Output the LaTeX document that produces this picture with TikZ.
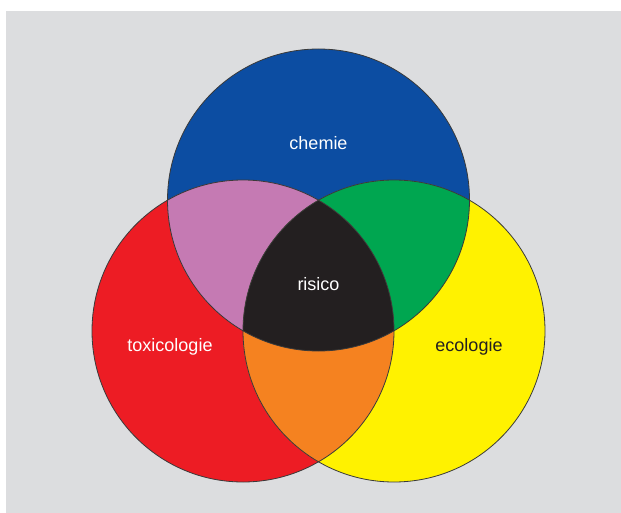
\documentclass[tikz,border=0pt]{standalone}
\usepackage{fontspec}
\setmainfont{Liberation Sans}
\definecolor{bggray}{HTML}{DCDDDF}
\definecolor{cblue}{HTML}{0C4DA2}
\definecolor{cred}{HTML}{ED1C24}
\definecolor{cyellow}{HTML}{FFF200}
\definecolor{cpink}{HTML}{C57AB3}
\definecolor{cgreen}{HTML}{00A650}
\definecolor{corange}{HTML}{F58220}
\definecolor{cblack}{HTML}{231F20}
\definecolor{cline}{HTML}{3A3A3A}
\tikzset{
  lbl/.style={font=\fontsize{18}{20}\selectfont, inner sep=0pt},
  ring/.style={draw=cline, line width=0.8pt},
}
\begin{document}
\begin{tikzpicture}[x=1pt,y=-1pt]
\useasboundingbox (0,0) rectangle (621,513);
\fill[white] (0,0) rectangle (621,513);
\fill[bggray] (6,11) rectangle (621,513);
\coordinate (cc) at (318.5,200);
\coordinate (ct) at (243,331);
\coordinate (ce) at (394,331);
\def\R{151pt}
% base circles
\fill[cblue] (cc) circle[radius=\R];
\fill[cred] (ct) circle[radius=\R];
\fill[cyellow] (ce) circle[radius=\R];
% pairwise intersections
\begin{scope}
  \clip (cc) circle[radius=\R];
  \fill[cpink] (ct) circle[radius=\R];
  \fill[cgreen] (ce) circle[radius=\R];
\end{scope}
\begin{scope}
  \clip (ct) circle[radius=\R];
  \fill[corange] (ce) circle[radius=\R];
\end{scope}
% triple intersection
\begin{scope}
  \clip (cc) circle[radius=\R];
  \clip (ct) circle[radius=\R];
  \fill[cblack] (ce) circle[radius=\R];
\end{scope}
% outlines
\draw[ring] (cc) circle[radius=\R];
\draw[ring] (ct) circle[radius=\R];
\draw[ring] (ce) circle[radius=\R];
% labels
\node[lbl, text=white] (chemie) at (318.5,143) {chemie};
\node[lbl, text=white] (risico) at (318.5,284) {risico};
\node[lbl, text=white] (tox) at (170,347) {toxicologie};
\node[lbl, text=cblack] (eco) at (469,347) {ecologie};
\end{tikzpicture}
\end{document}
